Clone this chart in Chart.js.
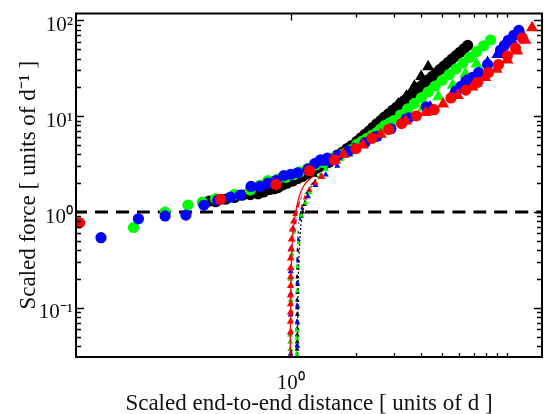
<!DOCTYPE html>
<html><head><meta charset="utf-8">
<script src="https://cdn.jsdelivr.net/npm/chart.js@4/dist/chart.umd.min.js"></script>
<style>html,body{margin:0;padding:0;background:#fff;}</style>
</head><body>
<canvas id="c" width="549" height="414"></canvas>
<script>
// ---- axis settings & labels ----
const xMin = 0.102, xMax = 14.45;
const yMin = 0.0307, yMax = 118;
const xTickValues = [1];
const xTickLabels = ['10\u2070'];
const yTickValues = [0.1, 1, 10, 100];
const yTickLabels = ['10\u207B\u00B9', '10\u2070', '10\u00B9', '10\u00B2'];
const xMajorTicks = [1];
const xMinorTicks = [2, 3, 4, 5, 6, 7, 8, 9, 10];
const yMajorTicks = [0.1, 1, 10, 100];
const yMinorTicks = [0.04, 0.05, 0.06, 0.07, 0.08, 0.09, 0.2, 0.3, 0.4, 0.5, 0.6, 0.7, 0.8, 0.9,
                     2, 3, 4, 5, 6, 7, 8, 9, 20, 30, 40, 50, 60, 70, 80, 90];
const xTitle = 'Scaled end-to-end distance [ units of d ]';
const yTitle = 'Scaled force [ units of d\u207B\u00B9 ]';

// ---- red series ----
const redCircleX = [0.106, 0.474, 0.855, 1.22, 1.59, 2.0, 2.37, 2.83, 3.25, 3.8, 4.59, 5.49, 6.43, 7.3, 8.17, 9.1, 10.0, 10.9, 11.7];
const redCircleY = [0.77, 1.36, 1.94, 2.70, 3.50, 4.6, 5.9, 7.28, 8.38, 10.1, 11.7, 15.5, 18.7, 22.6, 28.6, 34.6, 42.7, 51.5, 65.5];
const redTriX = [1.75, 2.15, 2.6, 3.4, 4.2, 5.05, 5.9, 6.9, 7.9, 8.9, 10.0, 11.1, 12.1, 13.0];
const redTriY = [4.0, 5.0, 6.5, 8.9, 10.9, 13.4, 16.4, 20.2, 25.4, 31, 38.5, 48, 62, 84];
const redLowX = [1.0, 1.0, 1.0, 1.0, 1.0, 1.0, 1.0, 1.0, 1.0, 1.005, 1.01, 1.02, 1.035, 1.06, 1.099, 1.147, 1.208, 1.287, 1.386];
const redLowY = [0.056, 0.072, 0.09, 0.11, 0.135, 0.17, 0.21, 0.26, 0.33, 0.41, 0.52, 0.66, 0.80, 0.96, 1.18, 1.43, 1.72, 2.03, 2.34];

// ---- blue series ----
const blueCircleX = [0.133, 0.198, 0.263, 0.328, 0.397, 0.46, 0.527, 0.585, 0.656, 0.722, 0.785, 0.855, 0.929, 1.0, 1.076, 1.2, 1.29, 1.371, 1.476, 1.65, 1.84, 2.2, 2.5, 2.9, 3.5, 4.22, 5.79, 6.1, 6.43, 6.9, 7.37, 8.1, 9.3, 9.7, 10.1, 10.7, 11.3];
const blueCircleY = [0.54, 0.85, 0.91, 0.93, 1.18, 1.33, 1.43, 1.50, 1.85, 1.85, 2.0, 2.13, 2.40, 2.48, 2.57, 2.8, 3.2, 3.50, 3.66, 3.9, 4.32, 5.3, 6.16, 7.4, 9.6, 12.5, 18.3, 20.5, 23.2, 25.5, 28.6, 34.6, 49.0, 55, 62.0, 70, 78.6];
const blueTriX = [1.45, 1.6, 1.95, 2.4, 3.3, 4.4, 5.6, 6.43, 7.4, 8.1, 9.0, 10.5, 11.5];
const blueTriY = [3.3, 3.5, 4.6, 6.0, 9.0, 12.5, 17.5, 23.6, 28.0, 36.3, 44, 62, 76];
const blueLowX = [1.0, 1.07, 1.0, 1.07, 1.0, 1.07, 1.0, 1.07, 1.0, 1.07, 1.005, 1.075, 1.03, 1.09, 1.12, 1.2, 1.3, 1.45, 1.64];
const blueLowY = [0.033, 0.04, 0.055, 0.07, 0.085, 0.105, 0.14, 0.18, 0.24, 0.31, 0.42, 0.52, 0.66, 0.85, 1.1, 1.45, 1.9, 2.45, 3.03];

// ---- green series ----
const greenCircleX = [0.188, 0.263, 0.335, 0.39, 0.45, 0.55, 0.65, 0.72, 0.785, 0.87, 0.95, 1.03, 1.1, 1.2, 1.3, 1.4, 1.5, 1.6, 1.7, 1.8, 1.9, 2.02, 2.13, 2.25, 2.37, 2.5, 2.6, 2.71, 2.85,
  2.985, 3.21, 3.46, 3.72, 4.01, 4.31, 4.64, 5.00, 5.38, 5.79, 6.23, 6.70, 7.21, 7.77, 8.36];
const greenCircleY = [0.69, 1.0, 1.18, 1.27, 1.38, 1.53, 1.70, 1.9, 2.13, 2.2, 2.30, 2.45, 2.62, 2.85, 3.1, 3.3, 3.55, 3.75, 3.95, 4.2, 4.45, 5.1, 5.45, 5.88, 6.3, 6.77, 7.35, 7.98, 8.45,
  8.99, 10.3, 11.9, 13.6, 15.6, 18.0, 20.6, 23.7, 27.2, 31.2, 35.9, 41.2, 47.3, 54.3, 62.4];
const greenTriX = [1.4, 1.65, 1.9, 2.3, 2.8, 3.4, 4.1, 4.8, 5.6, 6.4, 7.2];
const greenTriY = [3.2, 3.7, 4.4, 5.6, 7.3, 9.4, 12.4, 16.0, 21, 27.5, 35];
const greenLowX = [0.995, 1.065, 0.995, 1.065, 0.995, 1.065, 0.995, 1.065, 1.0, 1.07, 1.0, 1.07, 1.01, 1.08, 1.04, 1.12, 1.17, 1.22, 1.30, 1.37, 1.45];
const greenLowY = [0.031, 0.033, 0.037, 0.04, 0.044, 0.048, 0.052, 0.058, 0.12, 0.15, 0.2, 0.27, 0.36, 0.48, 0.62, 0.9, 1.25, 1.6, 2.0, 2.4, 2.8];

// ---- black series ----
const blackCircleX = [0.42, 0.45, 0.50, 0.55, 0.60, 0.65, 0.707, 0.75, 0.80, 0.84, 0.873, 0.92, 0.96, 1.02, 1.076, 1.13, 1.2, 1.26, 1.33, 1.41, 1.5, 1.57, 1.64, 1.73, 1.82, 1.9,
  2.02, 2.11, 2.20, 2.30, 2.39, 2.49, 2.60, 2.71, 2.83, 2.95, 3.08, 3.21, 3.35, 3.49, 3.64, 3.80, 3.96, 4.13, 4.31, 4.50, 4.69, 4.89, 5.10, 5.32, 5.55, 5.79, 6.04, 6.30, 6.56];
const blackCircleY = [1.30, 1.28, 1.36, 1.42, 1.50, 1.52, 1.55, 1.62, 1.72, 1.75, 1.80, 1.92, 2.0, 2.1, 2.23, 2.35, 2.5, 2.65, 2.89, 3.05, 3.3, 3.55, 3.93, 4.2, 4.6, 4.9,
  5.48, 5.95, 6.46, 7.0, 7.62, 8.3, 8.99, 9.8, 10.6, 11.5, 12.4, 13.5, 14.6, 15.9, 17.3, 18.8, 20.4, 22.1, 24.0, 26.0, 28.3, 30.8, 33.4, 36.3, 39.4, 42.8, 46.5, 50.5, 54.9];
const blackTriX = [1.82, 2.07, 2.30, 2.55, 2.83, 3.14, 3.42, 3.72, 4.0, 4.31];
const blackTriY = [4.12, 5.22, 6.62, 8.38, 10.6, 13.4, 16.2, 20.5, 26.0, 32.8];
const blackLowX = [1.07, 1.07, 1.07, 1.07, 1.07, 1.07, 1.07, 1.07, 1.07, 1.07, 1.07, 1.07, 1.07, 1.07, 1.07, 1.07, 1.07, 1.07,
  1.09, 1.11, 1.134, 1.155, 1.18, 1.24, 1.30, 1.37];
const blackLowY = [0.031, 0.037, 0.044, 0.052, 0.061, 0.072, 0.085, 0.1, 0.12, 0.145, 0.175, 0.21, 0.26, 0.32, 0.4, 0.5, 0.62, 0.78,
  0.9, 0.96, 1.0, 1.2, 1.6, 2.0, 2.4, 2.76];

// ---- thin curves near x = 1 ----
const redLineX = [0.995, 0.997, 1.0, 1.005, 1.015, 1.03, 1.054, 1.08, 1.11, 1.16, 1.22, 1.28];
const redLineY = [0.03, 0.06, 0.12, 0.25, 0.45, 0.7, 1.0, 1.3, 1.6, 1.95, 2.2, 2.4];
const whiteLineX = [1.035, 1.037, 1.04, 1.046, 1.056, 1.07, 1.09, 1.12, 1.16, 1.22, 1.3];
const whiteLineY = [0.03, 0.06, 0.12, 0.25, 0.45, 0.7, 1.0, 1.3, 1.6, 1.95, 2.3];
const blackLineX = [1.075, 1.077, 1.08, 1.086, 1.097, 1.112, 1.134, 1.16, 1.2, 1.26, 1.33];
const blackLineY = [0.03, 0.06, 0.12, 0.25, 0.45, 0.7, 1.0, 1.3, 1.6, 1.95, 2.3];

// ---- dashed reference line F = 1 ----
const refLineX = [0.1, 15];
const refLineY = [1, 1];

const FONT = "'Liberation Serif', 'Times New Roman', serif";
const zip = (xs, ys) => xs.map((x, i) => ({ x: x, y: ys[i] }));
function pts(label, xs, ys, color, style, radius, order) {
  return { label: label, data: zip(xs, ys), pointStyle: style, pointRadius: radius,
    backgroundColor: color, borderColor: color, borderWidth: 0, showLine: false, order: order };
}
function line(label, xs, ys, color, width, order, dash) {
  return { label: label, data: zip(xs, ys), showLine: true, pointRadius: 0, borderColor: color,
    borderWidth: width, fill: false, tension: 0.3, borderDash: dash || [], order: order };
}

const RED = '#ff0000', BLUE = '#0000ff', GREEN = '#00ff00', BLACK = '#000000';

const frameTicks = {
  id: 'frameTicks',
  afterDraw(chart) {
    const { ctx, chartArea: a, scales } = chart;
    const x = scales.x, y = scales.y;
    ctx.save();
    ctx.strokeStyle = '#000';
    ctx.lineWidth = 1.3;
    ctx.beginPath();
    const xt = (vals, len) => vals.forEach(v => {
      const p = Math.round(x.getPixelForValue(v)) + 0.5;
      ctx.moveTo(p, a.bottom); ctx.lineTo(p, a.bottom - len);
      ctx.moveTo(p, a.top); ctx.lineTo(p, a.top + len);
    });
    const yt = (vals, len) => vals.forEach(v => {
      const p = Math.round(y.getPixelForValue(v)) + 0.5;
      ctx.moveTo(a.left, p); ctx.lineTo(a.left + len, p);
      ctx.moveTo(a.right, p); ctx.lineTo(a.right - len, p);
    });
    xt(xMajorTicks, 7); xt(xMinorTicks, 4);
    yt(yMajorTicks, 8); yt(yMinorTicks, 5);
    ctx.stroke();
    ctx.lineWidth = 2;
    ctx.strokeRect(a.left, a.top, a.right - a.left, a.bottom - a.top);
    ctx.restore();
  }
};

new Chart(document.getElementById('c'), {
  type: 'scatter',
  data: {
    datasets: [
      line('ref', refLineX, refLineY, BLACK, 3, 30, [13, 8]),
      pts('black circles', blackCircleX, blackCircleY, BLACK, 'circle', 5.6, 12),
      pts('black triangles', blackTriX, blackTriY, BLACK, 'triangle', 7, 11),
      pts('black low', blackLowX, blackLowY, BLACK, 'triangle', 3, 10),
      pts('green circles', greenCircleX, greenCircleY, GREEN, 'circle', 5.6, 9),
      pts('green triangles', greenTriX, greenTriY, GREEN, 'triangle', 7, 8),
      pts('green low', greenLowX, greenLowY, GREEN, 'triangle', 3.6, 7),
      pts('blue circles', blueCircleX, blueCircleY, BLUE, 'circle', 5.6, 6),
      pts('blue triangles', blueTriX, blueTriY, BLUE, 'triangle', 7, 5),
      pts('blue low', blueLowX, blueLowY, BLUE, 'triangle', 3.6, 4),
      pts('red circles', redCircleX, redCircleY, RED, 'circle', 5.6, 3),
      pts('red triangles', redTriX, redTriY, RED, 'triangle', 7, 2),
      pts('red low', redLowX, redLowY, RED, 'triangle', 4.5, 1),
      line('black curve', blackLineX, blackLineY, BLACK, 1.2, 0, [2, 2]),
      line('white curve', whiteLineX, whiteLineY, '#ffffff', 2, 0),
      line('red curve', redLineX, redLineY, RED, 1.3, 0)
    ]
  },
  options: {
    responsive: false,
    devicePixelRatio: 1,
    animation: false,
    layout: { padding: { left: 6, right: 2, top: 8, bottom: 0 } },
    plugins: { legend: { display: false }, tooltip: { enabled: false } },
    scales: {
      x: {
        type: 'logarithmic', position: 'bottom', min: xMin, max: xMax,
        grid: { display: false, drawTicks: false }, border: { display: false },
        afterBuildTicks: s => { s.ticks = xTickValues.map(v => ({ value: v })); },
        afterFit: s => { s.height = 57; },
        ticks: {
          autoSkip: false, maxRotation: 0, padding: 16, color: '#111',
          font: { family: FONT, size: 21, lineHeight: 1 },
          callback: v => { const i = xTickValues.indexOf(v); return i >= 0 ? xTickLabels[i] : ''; }
        },
        title: { display: true, text: xTitle, color: '#111', padding: { top: 0, bottom: 0 },
          font: { family: FONT, size: 23, lineHeight: 0.87 } }
      },
      y: {
        type: 'logarithmic', position: 'left', min: yMin, max: yMax,
        grid: { display: false, drawTicks: false }, border: { display: false },
        afterBuildTicks: s => { s.ticks = yTickValues.map(v => ({ value: v })); },
        afterFit: s => { s.width = 70; },
        ticks: {
          autoSkip: false, padding: 3, labelOffset: 5, color: '#111',
          font: { family: FONT, size: 21, lineHeight: 1 },
          callback: v => { const i = yTickValues.indexOf(v); return i >= 0 ? yTickLabels[i] : ''; }
        },
        title: { display: true, text: yTitle, color: '#111', padding: { top: 11, bottom: 0 },
          font: { family: FONT, size: 23, lineHeight: 1 } }
      }
    }
  },
  plugins: [frameTicks]
});
</script>
</body></html>
